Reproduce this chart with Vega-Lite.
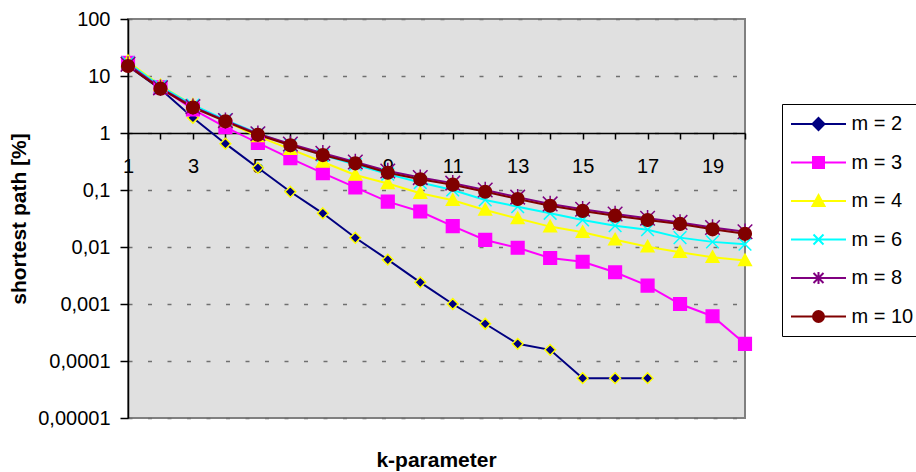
{
  "$schema": "https://vega.github.io/schema/vega-lite/v6.json",
  "width": 617,
  "height": 399,
  "autosize": {"type": "none"},
  "padding": {"left": 128, "top": 19, "right": 171, "bottom": 54},
  "background": "white",
  "config": {
    "view": {"fill": "#e0e0e0", "stroke": "#808080", "strokeWidth": 2},
    "font": "Liberation Sans"
  },
  "title": {"text": "k-parameter", "orient": "bottom", "anchor": "middle", "fontSize": 21, "fontWeight": "bold", "font": "Liberation Sans", "color": "black", "offset": 22},
  "data": {"values": [
    {"k":1,"m":"m = 2","v":15},{"k":2,"m":"m = 2","v":5.9},{"k":3,"m":"m = 2","v":1.85},{"k":4,"m":"m = 2","v":0.65},{"k":5,"m":"m = 2","v":0.245},{"k":6,"m":"m = 2","v":0.093},{"k":7,"m":"m = 2","v":0.039},{"k":8,"m":"m = 2","v":0.0145},{"k":9,"m":"m = 2","v":0.006},{"k":10,"m":"m = 2","v":0.0024},{"k":11,"m":"m = 2","v":0.001},{"k":12,"m":"m = 2","v":0.00045},{"k":13,"m":"m = 2","v":0.0002},{"k":14,"m":"m = 2","v":0.000157},{"k":15,"m":"m = 2","v":0.00005},{"k":16,"m":"m = 2","v":0.00005},{"k":17,"m":"m = 2","v":0.00005},
    {"k":1,"m":"m = 3","v":17},{"k":2,"m":"m = 3","v":6.3},{"k":3,"m":"m = 3","v":2.6},{"k":4,"m":"m = 3","v":1.27},{"k":5,"m":"m = 3","v":0.67},{"k":6,"m":"m = 3","v":0.36},{"k":7,"m":"m = 3","v":0.197},{"k":8,"m":"m = 3","v":0.111},{"k":9,"m":"m = 3","v":0.0625},{"k":10,"m":"m = 3","v":0.042},{"k":11,"m":"m = 3","v":0.0233},{"k":12,"m":"m = 3","v":0.0133},{"k":13,"m":"m = 3","v":0.0097},{"k":14,"m":"m = 3","v":0.0064},{"k":15,"m":"m = 3","v":0.0055},{"k":16,"m":"m = 3","v":0.0036},{"k":17,"m":"m = 3","v":0.0021},{"k":18,"m":"m = 3","v":0.001},{"k":19,"m":"m = 3","v":0.00061},{"k":20,"m":"m = 3","v":0.0002},
    {"k":1,"m":"m = 4","v":18},{"k":2,"m":"m = 4","v":6.8},{"k":3,"m":"m = 4","v":3.1},{"k":4,"m":"m = 4","v":1.6},{"k":5,"m":"m = 4","v":0.87},{"k":6,"m":"m = 4","v":0.52},{"k":7,"m":"m = 4","v":0.31},{"k":8,"m":"m = 4","v":0.183},{"k":9,"m":"m = 4","v":0.13},{"k":10,"m":"m = 4","v":0.088},{"k":11,"m":"m = 4","v":0.066},{"k":12,"m":"m = 4","v":0.0446},{"k":13,"m":"m = 4","v":0.0316},{"k":14,"m":"m = 4","v":0.0228},{"k":15,"m":"m = 4","v":0.0181},{"k":16,"m":"m = 4","v":0.0134},{"k":17,"m":"m = 4","v":0.0101},{"k":18,"m":"m = 4","v":0.0081},{"k":19,"m":"m = 4","v":0.0066},{"k":20,"m":"m = 4","v":0.0058},
    {"k":1,"m":"m = 6","v":17},{"k":2,"m":"m = 6","v":6.6},{"k":3,"m":"m = 6","v":3.1},{"k":4,"m":"m = 6","v":1.7},{"k":5,"m":"m = 6","v":0.98},{"k":6,"m":"m = 6","v":0.62},{"k":7,"m":"m = 6","v":0.41},{"k":8,"m":"m = 6","v":0.28},{"k":9,"m":"m = 6","v":0.19},{"k":10,"m":"m = 6","v":0.135},{"k":11,"m":"m = 6","v":0.1},{"k":12,"m":"m = 6","v":0.067},{"k":13,"m":"m = 6","v":0.051},{"k":14,"m":"m = 6","v":0.039},{"k":15,"m":"m = 6","v":0.0298},{"k":16,"m":"m = 6","v":0.0236},{"k":17,"m":"m = 6","v":0.0201},{"k":18,"m":"m = 6","v":0.0146},{"k":19,"m":"m = 6","v":0.0123},{"k":20,"m":"m = 6","v":0.0112},
    {"k":1,"m":"m = 8","v":16},{"k":2,"m":"m = 8","v":6.2},{"k":3,"m":"m = 8","v":2.9},{"k":4,"m":"m = 8","v":1.65},{"k":5,"m":"m = 8","v":0.97},{"k":6,"m":"m = 8","v":0.64},{"k":7,"m":"m = 8","v":0.44},{"k":8,"m":"m = 8","v":0.31},{"k":9,"m":"m = 8","v":0.215},{"k":10,"m":"m = 8","v":0.165},{"k":11,"m":"m = 8","v":0.132},{"k":12,"m":"m = 8","v":0.1},{"k":13,"m":"m = 8","v":0.075},{"k":14,"m":"m = 8","v":0.057},{"k":15,"m":"m = 8","v":0.046},{"k":16,"m":"m = 8","v":0.038},{"k":17,"m":"m = 8","v":0.032},{"k":18,"m":"m = 8","v":0.027},{"k":19,"m":"m = 8","v":0.022},{"k":20,"m":"m = 8","v":0.0185},
    {"k":1,"m":"m = 10","v":15},{"k":2,"m":"m = 10","v":6},{"k":3,"m":"m = 10","v":2.8},{"k":4,"m":"m = 10","v":1.6},{"k":5,"m":"m = 10","v":0.93},{"k":6,"m":"m = 10","v":0.61},{"k":7,"m":"m = 10","v":0.41},{"k":8,"m":"m = 10","v":0.294},{"k":9,"m":"m = 10","v":0.201},{"k":10,"m":"m = 10","v":0.154},{"k":11,"m":"m = 10","v":0.124},{"k":12,"m":"m = 10","v":0.093},{"k":13,"m":"m = 10","v":0.0696},{"k":14,"m":"m = 10","v":0.053},{"k":15,"m":"m = 10","v":0.043},{"k":16,"m":"m = 10","v":0.0355},{"k":17,"m":"m = 10","v":0.0298},{"k":18,"m":"m = 10","v":0.0254},{"k":19,"m":"m = 10","v":0.0204},{"k":20,"m":"m = 10","v":0.017}
  ]},
  "encoding": {
    "x": {"field": "k", "type": "quantitative",
      "scale": {"domain": [1, 20], "nice": false, "zero": false},
      "axis": {"values": [1,2,3,4,5,6,7,8,9,10,11,12,13,14,15,16,17,18,19,20],
        "labelExpr": "datum.value % 2 == 1 ? datum.label : ''",
        "format": "d", "offset": -285, "title": null, "grid": false,
        "labelFontSize": 20, "labelColor": "black", "labelFont": "Liberation Sans",
        "domainColor": "black", "domainWidth": 1.5, "tickColor": "black", "tickWidth": 1.5, "tickSize": 6,
        "labelPadding": 17, "labelFlush": false, "labelOverlap": false}},
    "y": {"field": "v", "type": "quantitative",
      "scale": {"type": "log", "domain": [0.00001, 100], "nice": false},
      "axis": {"values": [0.00001, 0.0001, 0.001, 0.01, 0.1, 1, 10, 100],
        "labelExpr": "replace(toString(datum.value), '.', ',')",
        "title": "shortest path [%]", "titleFontSize": 21, "titleFontWeight": "bold", "titleColor": "black", "titleFont": "Liberation Sans", "titlePadding": 8,
        "labelFontSize": 20, "labelColor": "black", "labelFont": "Liberation Sans", "labelPadding": 10,
        "domainColor": "black", "domainWidth": 1.5, "tickColor": "black", "tickWidth": 1.5, "tickSize": 8,
        "grid": true, "gridColor": "#707070", "gridDash": [4, 15.5], "gridWidth": 1.5}}
  },
  "resolve": {"scale": {"shape": "independent", "fill": "independent", "stroke": "independent", "color": "independent"}},
  "layer": [
    {
      "mark": {"type": "line", "strokeWidth": 2},
      "encoding": {
        "color": {"field": "m", "type": "nominal",
          "scale": {"domain": ["m = 2", "m = 3", "m = 4", "m = 6", "m = 8", "m = 10"],
            "range": ["#000080", "#FF00FF", "#FFFF00", "#00FFFF", "#800080", "#800000"]},
          "legend": null}
      }
    },
    {
      "mark": {"type": "point", "size": 160, "strokeWidth": 1.5, "opacity": 1},
      "encoding": {
        "shape": {"field": "m", "type": "nominal",
          "scale": {"domain": ["m = 2", "m = 3", "m = 4", "m = 6", "m = 8", "m = 10"],
            "range": ["M0,-0.85L0.85,0L0,0.85L-0.85,0Z", "M-1,-1H1V1H-1Z", "M0,-1L1,0.8H-1Z", "M-1,-1L1,1M-1,1L1,-1", "M-1.15,-1.15L1.15,1.15M-1.15,1.15L1.15,-1.15M0,-1.3V1.3", "M1,0A1,1,0,1,1,-1,0A1,1,0,1,1,1,0Z"]},
          "legend": null},
        "fill": {"field": "m", "type": "nominal",
          "scale": {"domain": ["m = 2", "m = 3", "m = 4", "m = 6", "m = 8", "m = 10"],
            "range": ["#000080", "#FF00FF", "#FFFF00", "transparent", "transparent", "#800000"]},
          "legend": null},
        "stroke": {"field": "m", "type": "nominal",
          "scale": {"domain": ["m = 2", "m = 3", "m = 4", "m = 6", "m = 8", "m = 10"],
            "range": ["#FFFF00", "#FF00FF", "#FFFF00", "#00FFFF", "#800080", "#800000"]},
          "legend": null}
      }
    },
    {
      "mark": {"type": "point", "size": 400, "strokeWidth": 2, "opacity": 0},
      "encoding": {
        "shape": {"field": "m", "type": "nominal",
          "scale": {"domain": ["m = 2", "m = 3", "m = 4", "m = 6", "m = 8", "m = 10"],
            "range": ["M-2.75,0H2.75M0,-0.6L0.6,0L0,0.6L-0.6,0Z", "M-2.75,0H2.75M-0.55,-0.55H0.55V0.55H-0.55Z", "M-2.75,0H2.75M0,-0.6L0.6,0.5H-0.6Z", "M-2.75,0H2.75M-0.5,-0.5L0.5,0.5M-0.5,0.5L0.5,-0.5", "M-2.75,0H2.75M-0.5,-0.5L0.5,0.5M-0.5,0.5L0.5,-0.5M0,-0.6V0.6", "M-2.75,0H2.75M0.55,0A0.55,0.55,0,1,1,-0.55,0A0.55,0.55,0,1,1,0.55,0Z"]},
          "legend": {"orient": "none", "legendX": 654, "legendY": 85, "title": null,
            "padding": 9, "rowPadding": 17.5, "symbolOffset": 16.5, "labelOffset": 22,
            "labelFontSize": 20, "labelFont": "Liberation Sans", "labelColor": "black", "labelLimit": 0,
            "strokeColor": "black", "fillColor": "white", "symbolSize": 400, "symbolStrokeWidth": 2, "symbolOpacity": 1}},
        "fill": {"field": "m", "type": "nominal",
          "scale": {"domain": ["m = 2", "m = 3", "m = 4", "m = 6", "m = 8", "m = 10"],
            "range": ["#000080", "#FF00FF", "#FFFF00", "transparent", "transparent", "#800000"]}},
        "stroke": {"field": "m", "type": "nominal",
          "scale": {"domain": ["m = 2", "m = 3", "m = 4", "m = 6", "m = 8", "m = 10"],
            "range": ["#000080", "#FF00FF", "#FFFF00", "#00FFFF", "#800080", "#800000"]}}
      }
    }
  ]
}
